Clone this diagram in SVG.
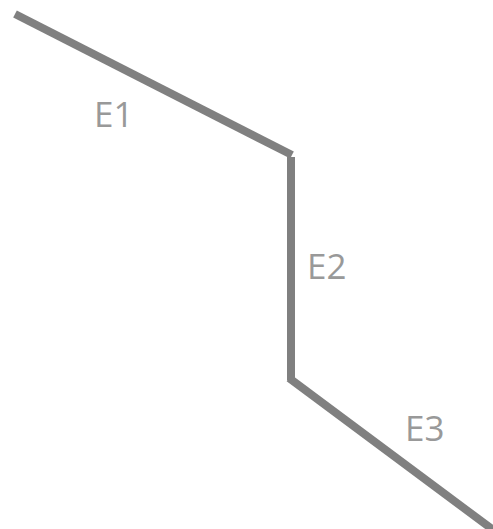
<svg xmlns="http://www.w3.org/2000/svg" width="493" height="529" viewBox="0 0 493 529">
<style>
.e{stroke:#808080;stroke-width:8;fill:none;stroke-linecap:butt}
.l{font-family:"Open Sans","Liberation Sans",sans-serif;font-size:35px;fill:#999999}
</style>
<rect width="493" height="529" fill="#ffffff"/>
<g id="connectors">
<g id="E1"><line class="e" x1="15" y1="14" x2="292" y2="155"/><text class="l" x="94" y="127">E1</text></g>
<g id="E2"><line class="e" x1="291" y1="157" x2="291" y2="380"/><text class="l" x="307" y="279">E2</text></g>
<g id="E3"><line class="e" x1="289" y1="378" x2="500" y2="535"/><text class="l" x="405" y="441">E3</text></g>
</g>
</svg>
